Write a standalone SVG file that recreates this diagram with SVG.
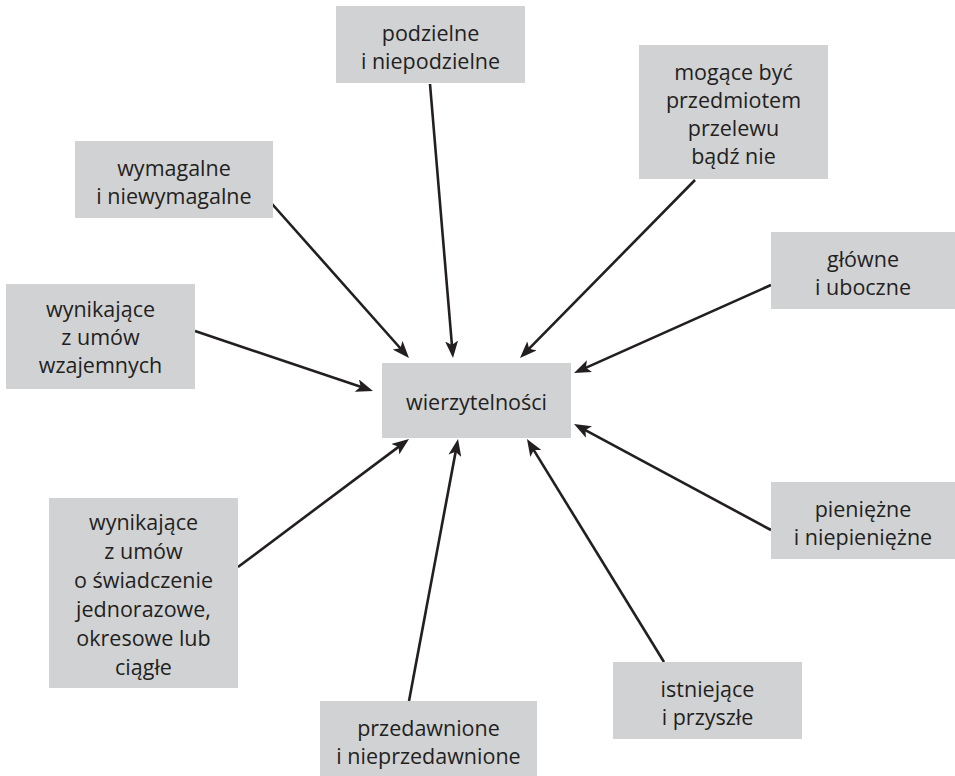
<svg xmlns="http://www.w3.org/2000/svg" width="955" height="776" viewBox="0 0 955 776">
<style>
.box{fill:#d1d2d4}
.t{font-family:"Open Sans","Noto Sans","DejaVu Sans",sans-serif;font-size:21.5px;fill:#231f20;text-anchor:middle}
.c{stroke:#231f20;stroke-width:2.6;fill:none;marker-end:url(#ah)}
</style>
<defs>
<marker id="ah" markerUnits="userSpaceOnUse" viewBox="0 0 17 13" refX="11" refY="6.5" markerWidth="17" markerHeight="13" orient="auto">
<path d="M0,0 L17,6.5 L0,13 L4,6.5 z" fill="#231f20"/>
</marker>
</defs>
<rect width="955" height="776" fill="#ffffff"/>
<g id="connectors">
<line class="c" x1="430" y1="84" x2="452.5" y2="352"/>
<line class="c" x1="265" y1="196" x2="405" y2="353.5"/>
<line class="c" x1="695" y1="180" x2="524.2" y2="353.7"/>
<line class="c" x1="771" y1="285" x2="579.5" y2="370.6"/>
<line class="c" x1="195" y1="331" x2="367.3" y2="389.1"/>
<line class="c" x1="238" y1="567" x2="404.2" y2="442.6"/>
<line class="c" x1="409" y1="701" x2="456.9" y2="444.9"/>
<line class="c" x1="664" y1="662" x2="530.1" y2="444.1"/>
<line class="c" x1="771" y1="530" x2="579.3" y2="426.8"/>
</g>
<g id="podzielne">
<rect class="box" x="336" y="6" width="189" height="77"/>
<text class="t" x="430.5" y="40.5">podzielne</text>
<text class="t" x="430.5" y="68.5">i niepodzielne</text>
</g>
<g id="mogace">
<rect class="box" x="639" y="45" width="189" height="134"/>
<text class="t" x="733.5" y="80">mogące być</text>
<text class="t" x="733.5" y="108">przedmiotem</text>
<text class="t" x="733.5" y="136">przelewu</text>
<text class="t" x="733.5" y="164">bądź nie</text>
</g>
<g id="wymagalne">
<rect class="box" x="75" y="141" width="198" height="77"/>
<text class="t" x="174" y="175.5">wymagalne</text>
<text class="t" x="174" y="203.5">i niewymagalne</text>
</g>
<g id="glowne">
<rect class="box" x="771" y="232" width="184" height="77"/>
<text class="t" x="863" y="266.5">główne</text>
<text class="t" x="863" y="294.5">i uboczne</text>
</g>
<g id="wzajemnych">
<rect class="box" x="6" y="284" width="189" height="105"/>
<text class="t" x="100.5" y="316.5">wynikające</text>
<text class="t" x="100.5" y="344.5">z umów</text>
<text class="t" x="100.5" y="372.5">wzajemnych</text>
</g>
<g id="wierzytelnosci">
<rect class="box" x="382" y="363" width="189" height="75"/>
<text class="t" x="476.5" y="409.5">wierzytelności</text>
</g>
<g id="pieniezne">
<rect class="box" x="771" y="482" width="184" height="77"/>
<text class="t" x="863" y="516.5">pieniężne</text>
<text class="t" x="863" y="544.5">i niepieniężne</text>
</g>
<g id="swiadczenie">
<rect class="box" x="49" y="498" width="189" height="190"/>
<text class="t" x="143.5" y="530">wynikające</text>
<text class="t" x="143.5" y="559">z umów</text>
<text class="t" x="143.5" y="588">o świadczenie</text>
<text class="t" x="143.5" y="617">jednorazowe,</text>
<text class="t" x="143.5" y="646">okresowe lub</text>
<text class="t" x="143.5" y="675">ciągłe</text>
</g>
<g id="istniejace">
<rect class="box" x="613" y="662" width="189" height="77"/>
<text class="t" x="707.5" y="696.5">istniejące</text>
<text class="t" x="707.5" y="724.5">i przyszłe</text>
</g>
<g id="przedawnione">
<rect class="box" x="320" y="701" width="217" height="75"/>
<text class="t" x="428.5" y="735.5">przedawnione</text>
<text class="t" x="428.5" y="763.5">i nieprzedawnione</text>
</g>
</svg>
